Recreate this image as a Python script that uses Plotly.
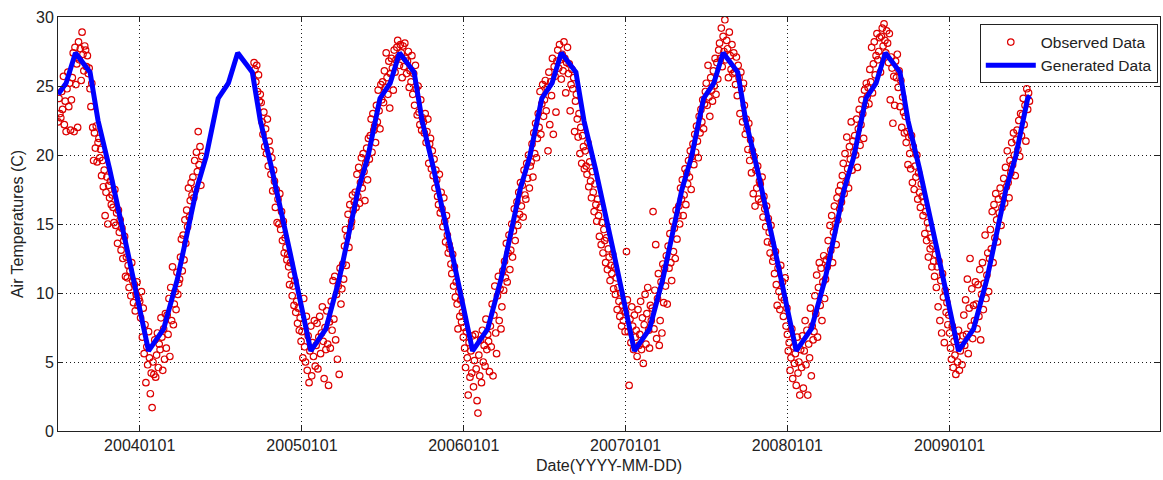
import pandas as pd
import plotly.graph_objects as go

# ---- axis ticks -------------------------------------------------------------
x_tick_dates = ["2004-01-01", "2005-01-01", "2006-01-01",
                "2007-01-01", "2008-01-01", "2009-01-01"]
x_tick_text = ["20040101", "20050101", "20060101",
               "20070101", "20080101", "20090101"]
y_ticks = [0, 5, 10, 15, 20, 25, 30]

# ---- observed air temperature (deg C), one reading every 2 days -------------
obs_2003 = [  # from 1 Jul
    22.4, 24.1, 23.0, 22.7, 24.6, 23.3, 25.7, 22.2, 23.9, 21.7, 24.8, 26.0, 23.5, 25.2, 21.8, 24.0,
    25.6, 27.4, 21.7, 27.8, 25.1, 26.6, 22.0, 28.2, 26.9, 27.7, 25.4, 28.9, 27.3, 26.1, 27.9,
    27.6, 26.4, 27.2, 25.9, 26.3, 24.8, 23.5, 25.2, 22.0, 19.6, 21.6, 20.5, 22.1, 19.5, 20.9,
    21.2, 19.8, 20.4, 18.5, 19.6, 17.7, 18.9, 15.6, 17.3, 18.4, 15.0, 17.8, 16.9, 18.1, 16.4, 17.1,
    16.2, 15.1, 17.5, 14.9, 15.8, 13.6, 16.0, 14.4, 15.3, 13.1, 14.7, 12.5, 13.8, 14.1, 11.2,
    12.6, 11.1, 12.0, 10.4, 11.6, 9.8, 12.2, 10.9, 9.3, 10.6, 8.7, 9.9, 10.8, 9.1, 9.6,
]
obs_2004 = [
    9.4, 8.2, 10.1, 6.8, 8.9, 5.6, 7.7, 3.5, 6.1, 4.8, 7.2, 5.3, 2.7, 4.2, 1.7, 5.0,
    4.1, 6.6, 3.9, 5.5, 7.1, 4.6, 6.3, 5.9, 8.2, 6.8, 4.4, 7.4, 5.2, 8.5,
    6.0, 8.4, 7.0, 9.6, 5.4, 10.4, 8.0, 11.9, 7.7, 9.2, 10.1, 8.8, 11.5, 9.9, 10.7,
    11.0, 12.6, 13.9, 11.6, 14.2, 12.4, 15.3, 13.6, 16.0, 14.8, 17.6, 15.5, 16.7, 18.0, 17.1,
    18.4, 16.9, 19.6, 17.5, 20.2, 18.8, 21.7, 19.3, 20.6, 17.8, 19.9, None, None, None, None, None,
    None, None, None, None, None, None, None, None, None, None, None, None, None, None, None,
    None, None, None, None, None, None, None, None, None, None, None, None, None, None, None,
    None, None, None, None, None, None, None, None, None, None, None, None, None, None, None, None,
    None, None, None, None, None, None, None, 26.7, 26.2, 25.3, 26.5, 24.6, 25.8, 23.9, 24.4,
    23.8, 22.4, 21.5, 23.1, 20.6, 21.9, 20.1, 22.6, 19.2, 21.0, 20.3, 18.6, 19.8, 17.4, 18.9,
    18.1, 16.2, 17.5, 15.1, 16.8, 15.0, 17.2, 14.6, 15.9, 13.8, 15.2, 12.9, 14.0, 13.3, 12.4,
    12.8, 11.9, 10.6, 12.2, 11.3, 9.8, 10.5, 9.1, 10.9, 8.6, 9.4, 7.8, 8.9, 7.3, 8.2, 6.5,
]
obs_2005 = [
    7.2, 5.3, 9.6, 6.1, 5.0, 8.3, 4.4, 6.9, 3.5, 5.8, 7.6, 4.0, 6.4, 5.4, 8.0, 4.7,
    6.2, 7.8, 4.5, 6.8, 8.3, 5.6, 7.1, 9.0, 6.5, 3.8, 7.5, 5.9, 8.7, 6.3,
    3.3, 7.9, 6.0, 9.4, 7.3, 10.9, 8.1, 11.2, 6.6, 9.9, 5.2, 10.5, 4.1, 11.8, 9.2,
    10.3, 12.1, 11.0, 13.4, 14.6, 12.0, 14.1, 15.7, 13.3, 16.4, 14.8, 15.2, 17.1, 16.0, 16.6,
    17.3, 16.2, 18.6, 17.0, 19.1, 16.5, 18.0, 19.8, 17.6, 20.1, 18.8, 16.7, 19.4, 20.5, 18.2, 21.2,
    19.7, 21.4, 22.6, 20.2, 23.0, 21.8, 22.1, 20.9, 23.6, 22.4, 24.7, 23.2, 21.9, 25.1, 24.0,
    25.3, 23.8, 26.1, 24.9, 27.4, 25.6, 24.4, 26.8, 23.4, 25.9, 27.0, 26.3, 24.7, 27.6, 26.0,
    26.9, 27.8, 28.3, 27.1, 26.5, 28.0, 27.4, 25.6, 27.9, 26.4, 28.1, 27.0, 25.9, 26.8, 27.5, 24.9,
    26.1, 25.3, 27.2, 24.4, 25.9, 23.6, 26.5, 24.8, 22.9, 25.0, 23.1, 22.2, 24.0, 21.8, 22.7,
    22.4, 21.6, 23.0, 20.9, 21.7, 22.6, 19.4, 20.8, 21.2, 19.0, 20.3, 18.5, 19.7, 17.6, 18.9,
    18.2, 17.0, 16.4, 18.6, 15.8, 17.3, 16.1, 14.8, 16.9, 15.2, 13.7, 15.6, 14.2, 12.9, 13.5,
    13.2, 12.1, 11.4, 12.8, 10.5, 11.9, 9.7, 10.8, 9.2, 7.4, 10.1, 8.3, 9.5, 7.9, 8.6, 6.8,
]
obs_2006 = [
    7.5, 6.0, 4.6, 7.2, 5.3, 2.6, 6.4, 3.9, 5.8, 4.2, 6.9, 3.2, 5.1, 7.0, 4.5, 2.2,
    1.3, 5.5, 4.0, 6.6, 3.5, 7.3, 5.0, 6.2, 4.7, 8.1, 5.9, 7.0, 6.5, 4.3,
    7.6, 6.1, 9.2, 4.0, 8.4, 10.5, 7.1, 5.6, 9.8, 11.2, 8.0, 10.3, 7.4, 9.0, 11.6,
    10.2, 12.3, 11.1, 13.6, 10.8, 12.9, 14.2, 11.7, 13.1, 15.0, 12.6, 14.5, 16.1, 13.8, 15.4,
    16.6, 14.9, 17.3, 15.7, 18.0, 16.3, 17.8, 15.5, 18.9, 17.1, 16.8, 19.4, 18.3, 20.0, 17.6, 19.2,
    19.5, 20.8, 18.4, 21.6, 20.1, 22.3, 19.8, 21.2, 23.0, 22.0, 24.6, 21.5, 23.7, 25.1, 22.8,
    24.0, 25.4, 23.2, 24.9, 20.3, 26.0, 22.2, 25.3, 24.3, 27.0, 21.5, 26.4, 25.7, 23.1, 26.8,
    27.6, 26.3, 28.0, 26.9, 25.5, 27.3, 26.1, 28.2, 27.0, 24.5, 26.7, 27.8, 25.9, 26.6, 23.2, 25.1,
    26.2, 24.8, 25.6, 21.7, 23.9, 24.4, 22.6, 21.3, 23.0, 20.1, 22.0, 19.4, 21.4, 20.6, 19.0,
    20.3, 19.2, 18.6, 20.9, 17.7, 19.5, 18.1, 16.9, 18.8, 17.3, 15.9, 17.9, 16.4, 15.2, 16.8,
    15.6, 14.1, 16.2, 13.5, 15.1, 12.9, 14.6, 13.8, 12.2, 14.0, 11.7, 13.2, 12.6, 10.9, 12.0,
    11.4, 12.8, 10.3, 11.9, 9.9, 11.1, 8.8, 10.4, 9.4, 8.3, 10.0, 7.6, 9.1, 8.0, 8.7, 7.2,
]
obs_2007 = [
    8.6, 13.0, 9.5, 7.2, 3.3, 8.1, 6.4, 9.0, 7.6, 5.9, 8.4, 6.8, 7.3, 5.4, 8.8, 6.2,
    7.0, 9.4, 5.9, 8.2, 4.9, 7.7, 9.9, 6.3, 8.5, 10.4, 7.3, 6.0, 9.1, 8.0,
    8.9, 15.9, 7.4, 10.2, 13.5, 6.7, 9.6, 11.4, 6.2, 8.0, 10.8, 7.1, 12.1, 9.3, 11.8,
    10.5, 12.7, 9.2, 13.4, 11.8, 14.3, 12.2, 10.9, 15.2, 13.0, 14.7, 12.5, 16.0, 13.9, 15.6,
    16.3, 15.0, 17.6, 16.8, 18.2, 15.6, 17.1, 19.0, 16.4, 18.7, 17.9, 19.6, 18.4, 20.3, 17.5, 19.9,
    20.8, 19.3, 21.5, 20.2, 22.1, 21.0, 19.8, 22.8, 21.6, 23.3, 22.4, 24.0, 21.9, 23.7, 24.6,
    25.2, 23.6, 26.5, 24.2, 22.8, 25.6, 24.7, 23.9, 26.1, 25.0, 27.0, 24.4, 26.7, 25.5, 27.6,
    28.1, 27.0, 29.2, 26.4, 28.6, 27.5, 29.8, 26.9, 28.3, 27.7, 25.6, 28.9, 27.2, 26.2, 28.0, 25.9,
    27.4, 26.0, 25.1, 27.1, 24.3, 26.5, 25.6, 23.0, 26.0, 24.8, 22.4, 25.2, 23.6, 21.5, 22.6,
    21.9, 20.4, 22.3, 19.6, 21.1, 18.7, 20.3, 17.2, 19.9, 16.3, 18.9, 17.6, 19.2, 16.8, 18.1,
    17.9, 16.6, 18.4, 15.5, 17.0, 16.1, 14.8, 16.3, 13.7, 15.4, 14.4, 12.9, 14.9, 13.6, 12.3,
    12.6, 11.4, 13.0, 10.6, 9.1, 11.8, 10.1, 8.8, 12.0, 9.7, 10.8, 8.3, 9.5, 11.1, 7.6, 8.9,
]
obs_2008 = [
    7.0, 5.8, 6.4, 4.4, 5.3, 7.4, 3.8, 6.1, 4.9, 5.6, 3.3, 6.8, 4.2, 5.0, 2.6, 5.9,
    4.6, 6.9, 3.1, 5.8, 8.0, 4.8, 7.3, 2.6, 6.3, 5.3, 8.9, 4.0, 7.6, 6.6,
    7.2, 9.8, 8.5, 11.3, 6.8, 10.4, 12.2, 9.1, 11.8, 8.0, 10.8, 12.7, 9.6, 11.0, 12.4,
    11.9, 13.8, 12.6, 14.9, 13.1, 15.6, 12.2, 14.4, 16.3, 15.0, 13.5, 16.9, 15.3, 17.4, 16.1,
    17.8, 16.6, 18.5, 19.4, 17.2, 20.1, 18.0, 21.3, 19.0, 17.6, 20.6, 19.7, 22.4, 18.9, 21.0, 20.2,
    21.4, 20.0, 22.6, 19.1, 21.9, 23.3, 20.7, 22.2, 24.0, 23.0, 21.2, 24.7, 23.6, 25.2, 24.2,
    24.9, 23.7, 26.2, 25.3, 27.8, 24.5, 26.6, 28.2, 25.8, 27.2, 28.8, 26.9, 27.5, 28.5, 26.0,
    28.6, 29.2, 27.9, 29.5, 28.3, 27.4, 29.0, 28.1, 26.7, 28.8, 24.0, 27.1, 26.3, 22.3, 25.7, 23.6,
    26.8, 25.6, 27.3, 24.9, 26.1, 23.5, 25.4, 22.0, 24.2, 23.1, 21.6, 22.8, 20.9, 21.7, 19.3,
    21.3, 20.1, 19.0, 21.4, 18.0, 20.6, 17.5, 19.2, 18.4, 20.0, 16.8, 18.7, 17.3, 16.2, 17.9,
    17.0, 15.6, 16.6, 14.3, 15.9, 13.8, 15.1, 12.6, 14.7, 13.2, 14.0, 11.9, 13.4, 12.3, 11.2,
    12.8, 10.4, 11.9, 9.0, 12.3, 8.0, 10.9, 7.1, 11.4, 9.7, 6.4, 10.2, 8.6, 9.3, 7.7, 8.4,
]
obs_2009 = [  # to 30 Jun
    7.1, 6.0, 5.2, 7.6, 4.6, 6.5, 5.5, 4.1, 6.8, 5.0, 7.3, 4.4, 5.8, 6.2, 4.8, 6.9,
    8.4, 6.2, 9.5, 7.0, 11.0, 5.6, 8.9, 12.5, 7.6, 10.3, 6.7, 9.1, 8.0, 10.8,
    9.2, 7.4, 10.6, 8.3, 11.7, 6.6, 9.9, 12.2, 8.8, 10.7, 14.2, 9.6, 11.3, 12.9, 10.1,
    12.5, 14.6, 13.2, 15.9, 12.2, 16.4, 14.0, 17.2, 15.3, 13.7, 16.8, 15.8, 17.6, 14.9, 16.2,
    17.0, 18.3, 16.5, 19.1, 17.7, 20.3, 18.0, 16.9, 19.6, 18.7, 20.9, 19.3, 21.6, 20.0, 18.5, 21.1,
    21.8, 20.4, 22.5, 19.9, 23.0, 21.4, 22.9, 24.1, 22.2, 23.6, 21.0, 24.8, 23.3, 24.5, 23.9,
]
obs_start = ["2003-07-01", "2004-01-01", "2005-01-01", "2006-01-01",
             "2007-01-01", "2008-01-01", "2009-01-01"]
obs_values = [obs_2003, obs_2004, obs_2005, obs_2006, obs_2007, obs_2008, obs_2009]

# ---- generated (model) air temperature: vertices of the model curve ---------
gen_dates = [
    "2003-07-01", "2003-07-19", "2003-08-09", "2003-08-28", "2003-09-11", "2003-09-29",
    "2003-10-25", "2003-12-06",
    "2004-01-21", "2004-02-07", "2004-02-24", "2004-03-26", "2004-04-20", "2004-05-08",
    "2004-05-30", "2004-06-26", "2004-07-19", "2004-08-09", "2004-08-28", "2004-09-11",
    "2004-09-29", "2004-10-25", "2004-12-06",
    "2005-01-21", "2005-02-07", "2005-02-24", "2005-03-26", "2005-04-20", "2005-05-08",
    "2005-05-30", "2005-06-26", "2005-07-19", "2005-08-09", "2005-08-28", "2005-09-11",
    "2005-09-29", "2005-10-25", "2005-12-06",
    "2006-01-21", "2006-02-07", "2006-02-24", "2006-03-26", "2006-04-20", "2006-05-08",
    "2006-05-30", "2006-06-26", "2006-07-19", "2006-08-09", "2006-08-28", "2006-09-11",
    "2006-09-29", "2006-10-25", "2006-12-06",
    "2007-01-21", "2007-02-07", "2007-02-24", "2007-03-26", "2007-04-20", "2007-05-08",
    "2007-05-30", "2007-06-26", "2007-07-19", "2007-08-09", "2007-08-28", "2007-09-11",
    "2007-09-29", "2007-10-25", "2007-12-06",
    "2008-01-21", "2008-02-07", "2008-02-24", "2008-03-26", "2008-04-20", "2008-05-08",
    "2008-05-30", "2008-06-26", "2008-07-19", "2008-08-09", "2008-08-28", "2008-09-11",
    "2008-09-29", "2008-10-25", "2008-12-06",
    "2009-01-21", "2009-02-07", "2009-02-24", "2009-03-26", "2009-04-20", "2009-05-08",
    "2009-05-30", "2009-06-26", "2009-07-01",
]
gen_values = [
    24.4, 25.2, 27.4, 26.6, 26.0, 22.5, 19.0, 12.8,
    5.8, 6.6, 7.4, 11.0, 14.9, 17.5, 19.9, 24.1, 25.2, 27.4, 26.6, 26.0, 22.5, 19.0, 12.8,
    5.8, 6.6, 7.4, 11.0, 14.9, 17.5, 19.9, 24.1, 25.2, 27.4, 26.6, 26.0, 22.5, 19.0, 12.8,
    5.8, 6.6, 7.4, 11.0, 14.9, 17.5, 19.9, 24.1, 25.2, 27.4, 26.6, 26.0, 22.5, 19.0, 12.8,
    5.8, 6.6, 7.4, 11.0, 14.9, 17.5, 19.9, 24.1, 25.2, 27.4, 26.6, 26.0, 22.5, 19.0, 12.8,
    5.8, 6.6, 7.4, 11.0, 14.9, 17.5, 19.9, 24.1, 25.2, 27.4, 26.6, 26.0, 22.5, 19.0, 12.8,
    5.8, 6.6, 7.4, 11.0, 14.9, 17.5, 19.9, 24.1, 24.3,
]

# ---- assemble the observed series on its 2-day sampling grid ----------------
obs_x, obs_y = [], []
for start, vals in zip(obs_start, obs_values):
    obs_x.extend(pd.date_range(start, periods=len(vals), freq="2D"))
    obs_y.extend(vals)

FONT = "Liberation Sans, Arial, sans-serif"
INK = "#222222"

fig = go.Figure()
fig.add_trace(go.Scatter(
    x=obs_x, y=obs_y, mode="markers", name="Observed Data",
    marker=dict(symbol="circle-open", size=6.5, color="#dd0000",
                line=dict(width=1.2, color="#dd0000")),
))
fig.add_trace(go.Scatter(
    x=gen_dates, y=gen_values, mode="lines", name="Generated Data",
    line=dict(color="#0000ff", width=5),
))

axis_common = dict(
    showline=True, linecolor=INK, linewidth=1, mirror="ticks",
    ticks="inside", ticklen=5, tickcolor=INK, tickwidth=1,
    showgrid=True, gridcolor="#1a1a1a", gridwidth=1, griddash="1px,3px",
    zeroline=False, tickfont=dict(family=FONT, size=16, color=INK),
)

fig.update_xaxes(
    type="date", range=["2003-06-30 17:00", "2010-04-20 12:00"],
    tickmode="array", tickvals=x_tick_dates, ticktext=x_tick_text,
    title=dict(text="Date(YYYY-MM-DD)", font=dict(family=FONT, size=16, color=INK),
               standoff=6),
    **axis_common,
)
fig.update_yaxes(
    range=[0, 30], tickmode="array", tickvals=y_ticks,
    title=dict(text="Air Temperatures (C)", font=dict(family=FONT, size=16, color=INK),
               standoff=8),
    **axis_common,
)

fig.update_layout(
    width=1163, height=480,
    margin=dict(l=58, r=3, t=17, b=49),
    paper_bgcolor="white", plot_bgcolor="white",
    font=dict(family=FONT, size=16, color=INK),
    showlegend=True,
    legend=dict(
        x=0.998, y=0.982, xanchor="right", yanchor="top",
        bgcolor="white", bordercolor=INK, borderwidth=1,
        font=dict(family=FONT, size=15.5, color=INK),
        itemwidth=50, tracegroupgap=0,
    ),
)

fig.write_html("out.html")
